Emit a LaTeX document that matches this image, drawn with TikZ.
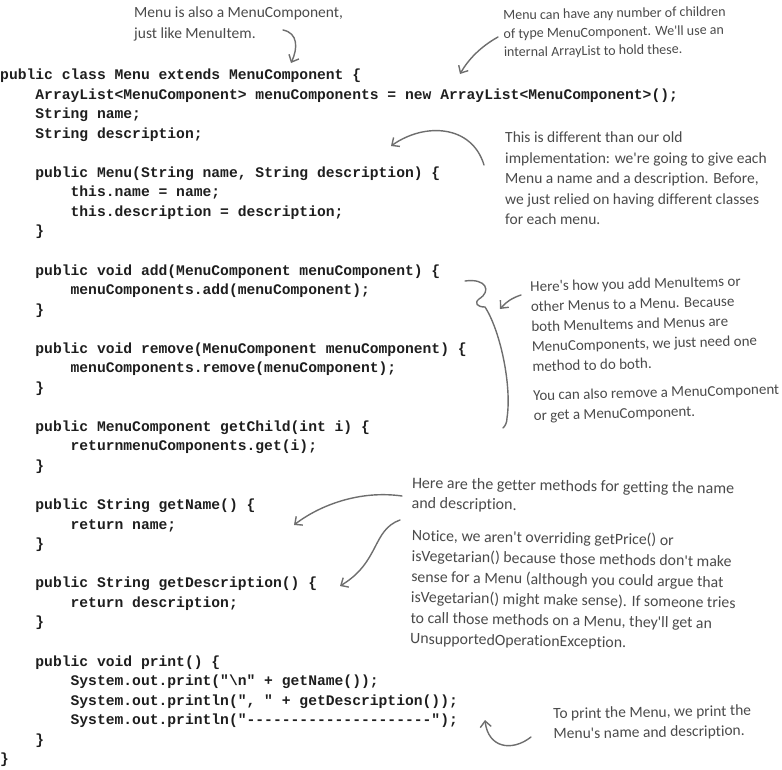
\documentclass[tikz,border=0pt]{standalone}
\usepackage{fontspec}
\setmonofont{Liberation Mono}
\newfontfamily\handfont{Carlito}[Ligatures=NoCommon]
\usetikzlibrary{arrows.meta}
\definecolor{codecol}{HTML}{1E1E1E}
\definecolor{notecol}{HTML}{4A4A4A}
\definecolor{arrowcol}{HTML}{6E6E6E}
\tikzset{
  code/.style={anchor=base west, inner sep=0pt, text=codecol, font=\fontsize{14.67}{19.55}\selectfont\ttfamily\bfseries},
  note/.style={anchor=north west, inner sep=0pt, align=left, text=notecol, font=\fontsize{15.5}{20.5}\selectfont\handfont},
  pointer/.style={draw=arrowcol, line width=1.4pt, line cap=round, -{Straight Barb[length=6pt,width=11pt]}},
  bracestroke/.style={draw=arrowcol, line width=1.4pt, line cap=round, line join=round}
}
\begin{document}
\begin{tikzpicture}[x=1pt,y=-1pt]
\useasboundingbox (0,0) rectangle (782,769);
% code lines: baseline = 79.5 + 19.55 k, indent 8.8 per char
\node[code] (c0)  at (0,79.5)     {public class Menu extends MenuComponent \{};
\node[code] (c1)  at (35.2,99.05) {ArrayList<MenuComponent> menuComponents = new ArrayList<MenuComponent>();};
\node[code] (c2)  at (35.2,118.6) {String name;};
\node[code] (c3)  at (35.2,138.15){String description;};
\node[code] (c5)  at (35.2,177.25){public Menu(String name, String description) \{};
\node[code] (c6)  at (70.4,196.8) {this.name = name;};
\node[code] (c7)  at (70.4,216.35){this.description = description;};
\node[code] (c8)  at (35.2,235.9) {\}};
\node[code] (c10) at (35.2,275.0) {public void add(MenuComponent menuComponent) \{};
\node[code] (c11) at (70.4,294.55){menuComponents.add(menuComponent);};
\node[code] (c12) at (35.2,314.1) {\}};
\node[code] (c14) at (35.2,353.2) {public void remove(MenuComponent menuComponent) \{};
\node[code] (c15) at (70.4,372.75){menuComponents.remove(menuComponent);};
\node[code] (c16) at (35.2,392.3) {\}};
\node[code] (c18) at (35.2,431.4) {public MenuComponent getChild(int i) \{};
\node[code] (c19) at (70.4,450.95){returnmenuComponents.get(i);};
\node[code] (c20) at (35.2,470.5) {\}};
\node[code] (c22) at (35.2,509.6) {public String getName() \{};
\node[code] (c23) at (70.4,529.15){return name;};
\node[code] (c24) at (35.2,548.7) {\}};
\node[code] (c26) at (35.2,587.8) {public String getDescription() \{};
\node[code] (c27) at (70.4,607.35){return description;};
\node[code] (c28) at (35.2,626.9) {\}};
\node[code] (c30) at (35.2,666.0) {public void print() \{};
\node[code] (c31) at (70.4,685.55){System.out.print("\textbackslash n" + getName());};
\node[code] (c32) at (70.4,705.1) {System.out.println(", " + getDescription());};
\node[code] (c33) at (70.4,724.65){System.out.println("---------------------");};
\node[code] (c34) at (35.2,744.2) {\}};
\node[code] (c35) at (0,763.75)   {\}};
% annotations
\node[note] (n1) at (134,7) {Menu is also a MenuComponent,\\just like MenuItem.};
\node[note, font=\fontsize{14}{18.5}\selectfont\handfont, rotate=1] (n2) at (503,10) {Menu can have any number of children\\of type MenuComponent. We'll use an\\internal ArrayList to hold these.};
\node[note] (n3) at (505,132) {This is different than our old\\implementation: we're going to give each\\Menu a name and a description. Before,\\we just relied on having different classes\\for each menu.};
\node[note, font=\fontsize{15}{20}\selectfont\handfont, rotate=1.5] (n4) at (530,281) {Here's how you add MenuItems or\\other Menus to a Menu. Because\\both MenuItems and Menus are\\MenuComponents, we just need one\\method to do both.\\[9pt]You can also remove a MenuComponent\\or get a MenuComponent.};
\node[note, font=\fontsize{16}{20}\selectfont\handfont, rotate=-1] (n5) at (412,477) {Here are the getter methods for getting the name\\and description.};
\node[note, font=\fontsize{15.8}{20.6}\selectfont\handfont, rotate=-1] (n6) at (412,529) {Notice, we aren't overriding getPrice() or\\isVegetarian() because those methods don't make\\sense for a Menu (although you could argue that\\isVegetarian() might make sense). If someone tries\\to call those methods on a Menu, they'll get an\\UnsupportedOperationException.};
\node[note, font=\fontsize{15.5}{20}\selectfont\handfont, rotate=1] (n7) at (553,708) {To print the Menu, we print the\\Menu's name and description.};
% arrow end points
\coordinate (a1s) at (283,30);  \coordinate (a1e) at (291,63);
\coordinate (a2s) at (498,37);  \coordinate (a2e) at (460,74);
\coordinate (a3s) at (484,165); \coordinate (a3e) at (391,146);
\coordinate (a4s) at (521,295); \coordinate (a4e) at (500,309);
\coordinate (a5s) at (402,496); \coordinate (a5e) at (294,525);
\coordinate (a6s) at (400,520); \coordinate (a6e) at (340,586);
\coordinate (a7s) at (531,737); \coordinate (a7e) at (485,720);
\draw[pointer] (a1s) .. controls (298,33) and (298,48) .. (a1e);
\draw[pointer] (a2s) .. controls (480,47) and (468,60) .. (a2e);
\draw[pointer] (a3s) .. controls (472,125) and (425,122) .. (a3e);
\draw[pointer] (a4s) .. controls (512,298) and (506,302) .. (a4e);
\draw[pointer] (a5s) .. controls (360,490) and (320,505) .. (a5e);
\draw[pointer] (a6s) .. controls (372,530) and (380,562) .. (a6e);
\draw[pointer] (a7s) .. controls (512,752) and (488,748) .. (a7e);
% hand-drawn brace
\coordinate (b0) at (465,281);
\coordinate (b1) at (479,299);
\coordinate (b2) at (485,307);
\coordinate (b3) at (507,418);
\coordinate (b4) at (503,428);
\draw[bracestroke] (b0) .. controls (486,278) and (492,291) .. (b1)
  .. controls (474,303) and (477,307) .. (b2)
  .. controls (500,330) and (512,385) .. (b3)
  .. controls (507,423) and (505,426) .. (b4);
\end{tikzpicture}
\end{document}
